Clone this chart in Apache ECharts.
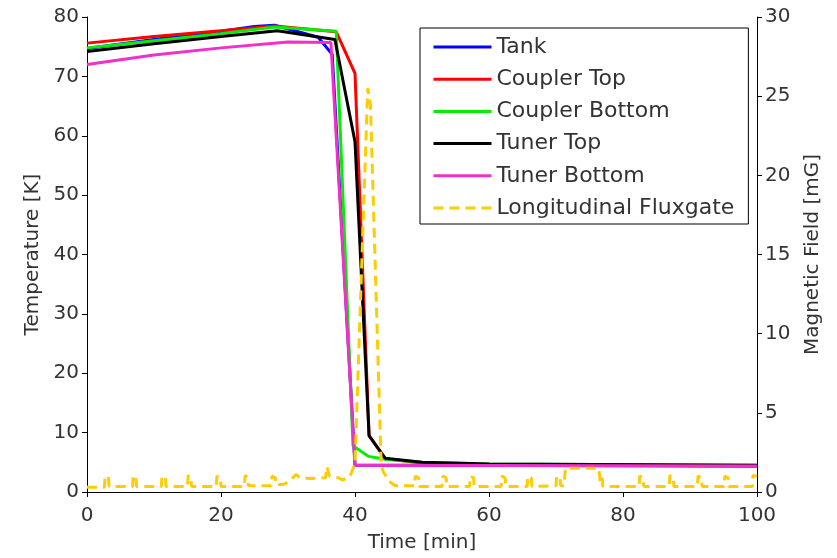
<!DOCTYPE html>
<html>
<head>
<meta charset="utf-8">
<script src="https://cdn.jsdelivr.net/npm/echarts@6/dist/echarts.min.js"></script>
<style>
  html, body { margin: 0; padding: 0; background: #fff; }
  #chart { width: 837px; height: 558px; }
</style>
</head>
<body>
<div id="chart"></div>
<script>
// Temperatures in K, time in minutes
const tank = [[0,74.7],[10,76.2],[20,77.6],[25,78.4],[28,78.6],[34.5,76.6],[36.6,73.7],[40,4.5],[50,4.5],[100,4.4]];
const couplerTop = [[0,75.6],[10,76.7],[20,77.7],[28,78.5],[37.2,77.5],[40,70.5],[42.1,9.5],[44.5,5.6],[50,4.9],[60,4.6],[100,4.4]];
const couplerBottom = [[0,74.8],[10,76.0],[20,77.2],[28,78.3],[37.2,77.6],[39.7,7.8],[42,6.0],[44.5,5.5],[50,5.0],[60,4.7],[100,4.5]];
const tunerTop = [[0,74.2],[10,75.5],[20,76.7],[28.4,77.7],[37,76.2],[40,59],[42.1,9.5],[44.5,5.7],[50,5.0],[60,4.7],[100,4.5]];
const tunerBottom = [[0,72.0],[10,73.6],[20,74.8],[30,75.8],[36.4,75.7],[40,4.5],[100,4.4]];

// Longitudinal fluxgate reading in mG
const fluxgate = [
  [0,0.3],[2.6,0.3],[2.7,1.0],[3.2,0.95],[3.3,0.35],
  [6.8,0.35],[6.9,1.05],[7.3,0.9],[7.4,0.35],
  [11.1,0.35],[11.2,1.0],[11.7,0.95],[11.8,0.35],
  [15.0,0.35],[15.1,1.05],[15.5,0.9],[15.6,0.35],
  [19.3,0.35],[19.4,1.0],[19.9,0.9],[20.0,0.35],
  [23.5,0.35],[23.6,1.05],[24.0,0.9],[24.1,0.4],
  [27.5,0.4],[27.6,1.0],[28.1,0.9],[28.2,0.45],
  [29.5,0.5],[30.5,0.8],[31.2,1.1],[31.7,0.95],[33.0,0.85],
  [35.6,0.9],[35.8,1.6],[36.2,1.0],[37.5,0.9],[38.2,0.75],
  [39.3,1.05],[40.0,1.8],[41.9,25.5],[42.3,24.5],[43.9,1.8],[44.2,1.3],[45.0,0.7],[46.0,0.4],
  [48.9,0.4],[49.0,1.0],[49.5,0.9],[49.6,0.35],
  [53.0,0.35],[53.1,1.0],[53.6,0.9],[53.7,0.35],
  [57.1,0.35],[57.2,1.0],[57.7,0.9],[57.8,0.35],
  [61.8,0.35],[61.9,1.0],[62.4,0.9],[62.5,0.35],
  [65.7,0.35],[65.8,1.0],[66.3,0.9],[66.4,0.35],
  [70.0,0.4],[70.1,1.0],[70.6,0.9],[70.7,0.4],[71.2,0.4],[71.4,1.5],[76.4,1.5],[76.6,0.6],[76.9,0.9],[77.0,0.35],
  [82.4,0.35],[82.5,1.0],[83.0,0.9],[83.1,0.35],
  [86.9,0.35],[87.0,1.05],[87.5,0.9],[87.6,0.35],
  [91.1,0.35],[91.2,1.0],[91.7,0.9],[91.8,0.35],
  [95.1,0.35],[95.2,1.0],[95.7,0.9],[95.8,0.35],
  [99.3,0.35],[99.4,1.05],[100,1.0]
];

const seriesNames = ['Tank','Coupler Top','Coupler Bottom','Tuner Top','Tuner Bottom','Longitudinal Fluxgate'];
const seriesColors = ['#0000ff','#ff0000','#00ee00','#000000','#f030c8','#ffcc00'];

const FONT = 'DejaVu Sans';
const textColor = '#333';

function lineSeries(idx, data, extra) {
  return Object.assign({
    name: seriesNames[idx],
    type: 'line',
    data: data,
    symbol: 'none',
    animation: false,
    lineStyle: { color: seriesColors[idx], width: 3 },
    itemStyle: { color: seriesColors[idx] }
  }, extra || {});
}

const axisCommon = {
  axisLine: { show: true, lineStyle: { color: '#000', width: 1 } },
  axisTick: { show: true, length: 5, lineStyle: { color: '#000' } },
  splitLine: { show: false },
  axisLabel: { fontFamily: FONT, fontSize: 20, color: textColor },
  nameTextStyle: { fontFamily: FONT, fontSize: 20, color: textColor }
};

const chart = echarts.init(document.getElementById('chart'), null, { renderer: 'canvas' });
chart.setOption({
  animation: false,
  backgroundColor: '#fff',
  grid: { left: 87, right: 80, top: 17, bottom: 64, containLabel: false },
  legend: {
    orient: 'vertical',
    left: 420,
    top: 28,
    padding: [8, 14, 5, 12],
    itemWidth: 58,
    itemHeight: 20,
    itemGap: 10.2,
    backgroundColor: '#fff',
    borderColor: '#000',
    borderWidth: 1,
    borderRadius: 0,
    itemStyle: { opacity: 0 },
    lineStyle: { width: 3 },
    textStyle: { fontFamily: FONT, fontSize: 22, color: textColor },
    data: seriesNames
  },
  xAxis: Object.assign({}, axisCommon, {
    type: 'value', min: 0, max: 100, interval: 20,
    name: 'Time [min]', nameLocation: 'middle', nameGap: 41,
    axisLabel: Object.assign({}, axisCommon.axisLabel, { margin: 14 })
  }),
  yAxis: [
    Object.assign({}, axisCommon, {
      type: 'value', min: 0, max: 80, interval: 10, position: 'left',
      name: 'Temperature [K]', nameLocation: 'middle', nameGap: 44,
      axisLabel: Object.assign({}, axisCommon.axisLabel, { margin: 8 })
    }),
    Object.assign({}, axisCommon, {
      type: 'value', min: 0, max: 30, interval: 5, position: 'right',
      name: 'Magnetic Field [mG]', nameLocation: 'middle', nameGap: 46,
      axisLabel: Object.assign({}, axisCommon.axisLabel, { margin: 8 })
    })
  ],
  series: [
    lineSeries(0, tank),
    lineSeries(1, couplerTop),
    lineSeries(2, couplerBottom),
    lineSeries(3, tunerTop),
    lineSeries(4, tunerBottom),
    lineSeries(5, fluxgate, {
      yAxisIndex: 1,
      lineStyle: { color: seriesColors[5], width: 3, type: [10, 6] }
    })
  ]
});
</script>
</body>
</html>
